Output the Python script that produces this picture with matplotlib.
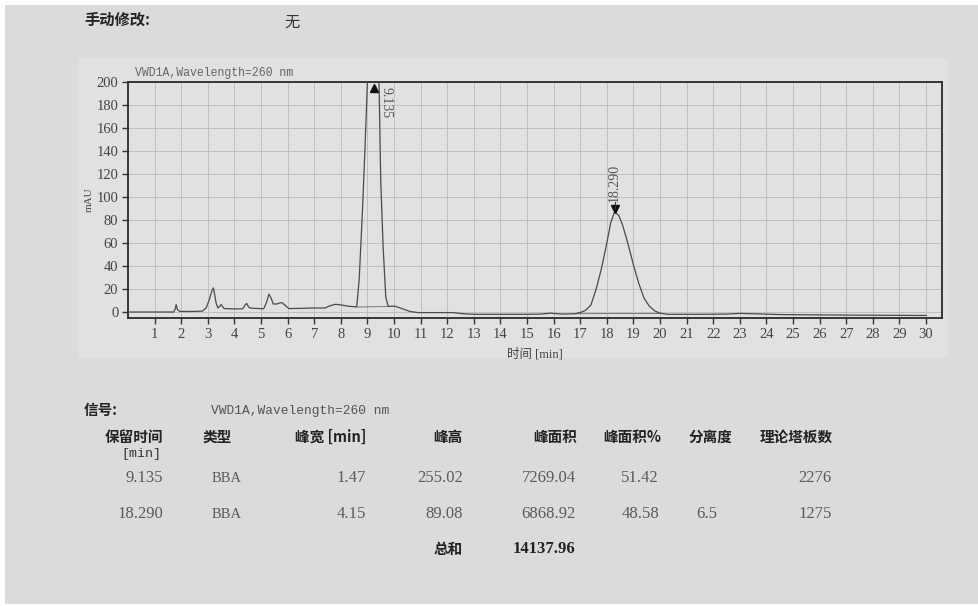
import matplotlib.pyplot as plt
from matplotlib.patches import Rectangle

# --- Chromatogram trace ---
TIME_MIN = [0.0, 1.0, 1.72, 1.78, 1.81, 1.86, 1.95, 2.5, 2.8, 2.94, 3.06, 3.15, 3.21,
            3.26, 3.31, 3.38, 3.45, 3.5, 3.56, 3.62, 4.0, 4.31, 4.4, 4.46, 4.53, 4.6,
            5.1, 5.2, 5.3, 5.38, 5.46, 5.6, 5.72, 5.8, 5.92, 6.05, 6.5, 7.0, 7.4, 7.6,
            7.8, 8.0, 8.3, 8.55, 8.6, 8.69, 8.81, 8.91, 9.0, 9.135, 9.3, 9.44, 9.5,
            9.59, 9.69, 9.78, 9.85, 10.05, 10.3, 10.6, 10.9, 11.5, 12.2, 12.6, 13.0,
            14.0, 15.0, 15.5, 15.9, 16.3, 16.8, 17.0, 17.2, 17.4, 17.6, 17.8, 18.0,
            18.15, 18.29, 18.45, 18.6, 18.8, 19.0, 19.2, 19.4, 19.6, 19.8, 20.0, 20.3,
            21.5, 22.5, 23.0, 23.5, 24.5, 26.0, 28.0, 30.0]
SIGNAL_MAU = [0.0, 0.0, 0.0, 3.0, 6.5, 2.0, 0.5, 0.5, 0.8, 3.6, 11.0, 18.0, 21.0,
              15.0, 8.0, 3.5, 5.0, 6.5, 4.5, 3.0, 2.7, 2.8, 6.0, 7.5, 4.5, 3.4,
              2.8, 8.0, 15.5, 12.0, 7.0, 7.0, 8.0, 8.0, 5.5, 3.0, 3.2, 3.5, 3.5, 5.5,
              6.7, 6.2, 5.0, 4.5, 5.0, 28.0, 86.0, 143.0, 200.0, 255.0, 240.0, 196.0, 115.0,
              57.0, 13.0, 5.0, 5.0, 5.0, 3.0, 0.5, -0.5, -0.5, -0.5, -1.5, -2.0,
              -2.0, -2.0, -1.8, -1.0, -1.8, -1.5, -0.5, 1.5, 6.0, 20.0, 38.0, 60.0,
              78.0, 87.0, 84.0, 75.0, 59.0, 41.0, 25.0, 12.0, 5.0, 1.0, -1.0, -2.0,
              -2.0, -1.8, -1.2, -1.5, -2.2, -2.5, -2.8, -3.0]

# integration baselines under the two integrated peaks
BASE1_T = [8.58, 9.82]
BASE1_Y = [4.3, 4.8]
BASE2_T = [16.8, 20.0]
BASE2_Y = [-1.5, -1.2]

# integrated peaks
PEAK_RT = [9.135, 18.290]
PEAK_LABELS = ['9.135', '18.290']

X_TICKS = list(range(1, 31))
Y_TICKS = list(range(0, 201, 20))

# --- Report table ---
TABLE_HEADERS = ['保留时间', '类型', '峰宽 [min]', '峰高', '峰面积', '峰面积%', '分离度', '理论塔板数']
ROW_RT = ['9.135', '18.290']
ROW_TYPE = ['BBA', 'BBA']
ROW_WIDTH = ['1.47', '4.15']
ROW_HEIGHT = ['255.02', '89.08']
ROW_AREA = ['7269.04', '6868.92']
ROW_AREA_PCT = ['51.42', '48.58']
ROW_RES = ['', '6.5']
ROW_PLATES = ['2276', '1275']
TOTAL_AREA = '14137.96'

SIGNAL_NAME = 'VWD1A,Wavelength=260 nm'

W, H = 979, 606
PAPER = '#dadcd9'
PANEL = '#e0e2df'
GREY_INK = '#5a5a5a'
CJK = ['Noto Sans CJK SC', 'DejaVu Sans']
SERIF = 'Liberation Serif'
MONO = 'Liberation Mono'


def fx(px):
    return px / W


def fy(py):
    return 1 - py / H


fig = plt.figure(figsize=(W / 100, H / 100), dpi=100, facecolor='white')
fig.patches.append(Rectangle((fx(5), fy(604)), fx(974), 599 / H,
                             transform=fig.transFigure, facecolor=PAPER,
                             edgecolor='none', zorder=-10))
# slightly lighter printed panel behind the chromatogram
fig.patches.append(Rectangle((fx(78), fy(358)), fx(870), 300 / H,
                             transform=fig.transFigure, facecolor=PANEL,
                             edgecolor='none', zorder=-9))

# header line
fig.text(fx(84), fy(20), '手动修改:', family=CJK, fontsize=11, fontweight='bold',
         color='#222', va='center', ha='left')
fig.text(fx(292), fy(22), '无', family=CJK, fontsize=11, color='#333',
         va='center', ha='center')

# --- chromatogram ---
ax = fig.add_axes([fx(128), fy(318), fx(942) - fx(128), (318 - 82) / H])
ax.set_facecolor(PANEL)
ax.plot(TIME_MIN, SIGNAL_MAU, color='#4a4a4a', lw=0.9, zorder=3)
ax.plot(BASE1_T, BASE1_Y, color='#666', lw=0.6, zorder=2)
ax.plot(BASE2_T, BASE2_Y, color='#666', lw=0.6, zorder=2)

ax.set_xlim(0, 30.6)
ax.set_ylim(-5.2, 200)
ax.set_xticks(X_TICKS)
ax.set_yticks(Y_TICKS)
ax.grid(True, color='#bdc0bd', lw=0.7)
ax.set_axisbelow(True)
for sp in ax.spines.values():
    sp.set_color('#2a2a2a')
    sp.set_linewidth(1.3)
ax.tick_params(axis='both', direction='out', length=4, width=1, colors='#333',
               labelsize=10.5, labelcolor='#444', pad=3)
for lab in ax.get_xticklabels() + ax.get_yticklabels():
    lab.set_family(SERIF)

ax.set_xlabel('时间 [min]', family=[SERIF] + CJK, fontsize=9, color='#444', labelpad=5)
ax.set_ylabel('mAU', family=SERIF, fontsize=8, color='#444', labelpad=2)
ax.text(0.008, 1.012, SIGNAL_NAME, transform=ax.transAxes, family=MONO,
        fontsize=8.3, color='#666', ha='left', va='bottom')

# peak markers and retention time labels
sig_at = dict(zip(TIME_MIN, SIGNAL_MAU))
rt1, rt2 = PEAK_RT
ax.plot([rt1 + 0.1], [195], marker='^', color='#111', ms=6, clip_on=False, zorder=4)
ax.text(rt1 + 0.55, 196, PEAK_LABELS[0], rotation=-90, family=SERIF, fontsize=10,
        color='#555', ha='center', va='top')
apex2 = sig_at[rt2]
ax.plot([rt2], [apex2 + 3], marker='v', color='#111', ms=6, zorder=4)
ax.plot([rt2, rt2], [apex2 + 3, apex2 + 9], color='#333', lw=0.8, zorder=4)
ax.text(rt2, apex2 + 9, PEAK_LABELS[1], rotation=90, family=SERIF, fontsize=10,
        color='#555', ha='center', va='bottom')

# --- report table ---
fig.text(fx(84), fy(410), '信号:', family=CJK, fontsize=10.5, fontweight='bold',
         color='#222', va='center', ha='left')
fig.text(fx(211), fy(411), SIGNAL_NAME, family=MONO, fontsize=9.3, color='#555',
         va='center', ha='left')

col_right = [163, None, 366, 463, 577, 661, 732, 833]
for i, head in enumerate(TABLE_HEADERS):
    if col_right[i] is None:
        fig.text(fx(203), fy(437), head, family=CJK, fontsize=10.5, fontweight='bold',
                 color='#222', va='center', ha='left')
    else:
        fig.text(fx(col_right[i]), fy(437), head, family=CJK, fontsize=10.5,
                 fontweight='bold', color='#222', va='center', ha='right')
fig.text(fx(161), fy(454), '[min]', family=MONO, fontsize=9.5, color='#333',
         va='center', ha='right')

row_y = [478, 514]
num_style = dict(family=SERIF, fontsize=12, color=GREY_INK, va='center')
for r in range(len(ROW_RT)):
    y = fy(row_y[r])
    fig.text(fx(163), y, ROW_RT[r], ha='right', **num_style)
    fig.text(fx(212), y, ROW_TYPE[r], ha='left', **dict(num_style, fontsize=10.5))
    fig.text(fx(366), y, ROW_WIDTH[r], ha='right', **num_style)
    fig.text(fx(463), y, ROW_HEIGHT[r], ha='right', **num_style)
    fig.text(fx(576), y, ROW_AREA[r], ha='right', **num_style)
    fig.text(fx(659), y, ROW_AREA_PCT[r], ha='right', **num_style)
    fig.text(fx(717), y, ROW_RES[r], ha='right', **num_style)
    fig.text(fx(832), y, ROW_PLATES[r], ha='right', **num_style)

fig.text(fx(463), fy(549), '总和', family=CJK, fontsize=10.5, fontweight='bold',
         color='#222', va='center', ha='right')
fig.text(fx(575), fy(549), TOTAL_AREA, family=SERIF, fontsize=12, fontweight='bold',
         color='#222', va='center', ha='right')

fig.savefig('out.png', dpi=100, facecolor=fig.get_facecolor())
